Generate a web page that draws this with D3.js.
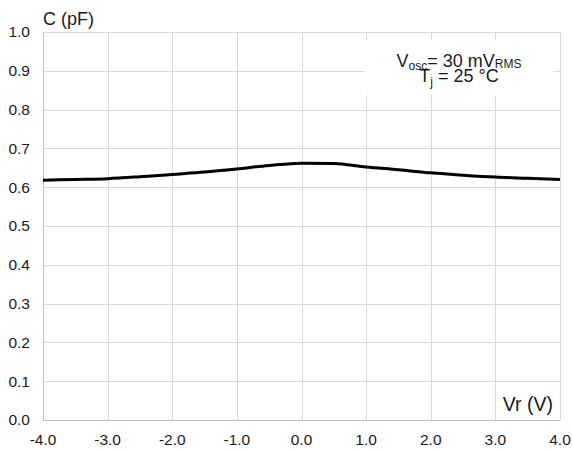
<!DOCTYPE html>
<html>
<head>
<meta charset="utf-8">
<script src="https://cdn.jsdelivr.net/npm/d3@7"></script>
<style>
  body { margin: 0; background: #fff; }
  svg text { font-family: "Liberation Sans", Arial, sans-serif; fill: #1a1a1a; }
</style>
</head>
<body>
<svg id="chart"></svg>
<script>
// reverse voltage (V) and capacitance (pF)
const vr = [-4.0, -3.5, -3.0, -2.5, -2.0, -1.5, -1.0, -0.5, 0.0, 0.5, 1.0, 1.5, 2.0, 2.5, 3.0, 3.5, 4.0];
const cap = [0.618, 0.620, 0.622, 0.627, 0.633, 0.639, 0.647, 0.656, 0.662, 0.661, 0.652, 0.645, 0.637, 0.631, 0.626, 0.623, 0.620];
const xTicks = [-4, -3, -2, -1, 0, 1, 2, 3, 4];
const yTicks = [0, 0.1, 0.2, 0.3, 0.4, 0.5, 0.6, 0.7, 0.8, 0.9, 1.0];

const W = 573, H = 453;
const margin = { top: 32, right: 13, bottom: 33, left: 43 };
const width = W - margin.left - margin.right;
const height = H - margin.top - margin.bottom;

const svg = d3.select('#chart').attr('width', W).attr('height', H);
const g = svg.append('g').attr('transform', `translate(${margin.left},${margin.top})`);

const x = d3.scaleLinear().domain([-4, 4]).range([0, width]);
const y = d3.scaleLinear().domain([0, 1]).range([height, 0]);

// grid
g.append('g').selectAll('line').data(xTicks).join('line')
    .attr('x1', d => Math.round(x(d)) + 0.5).attr('x2', d => Math.round(x(d)) + 0.5)
    .attr('y1', 0).attr('y2', height)
    .attr('stroke', '#d9d9d9').attr('stroke-width', 1);
g.append('g').selectAll('line').data(yTicks).join('line')
    .attr('x1', 0).attr('x2', width)
    .attr('y1', d => Math.round(y(d)) + 0.5).attr('y2', d => Math.round(y(d)) + 0.5)
    .attr('stroke', '#d9d9d9').attr('stroke-width', 1);

// axis lines
g.append('line').attr('x1', 0.5).attr('x2', 0.5).attr('y1', 0).attr('y2', height)
    .attr('stroke', '#bfbfbf');
g.append('line').attr('x1', 0).attr('x2', width).attr('y1', height + 0.5).attr('y2', height + 0.5)
    .attr('stroke', '#bfbfbf');

// tick labels
g.append('g').selectAll('text').data(yTicks).join('text')
    .attr('x', -13).attr('y', d => y(d)).attr('dy', '0.35em')
    .attr('text-anchor', 'end').style('font-size', '15.5px')
    .text(d => d.toFixed(1));
g.append('g').selectAll('text').data(xTicks).join('text')
    .attr('x', d => x(d)).attr('y', height + 25)
    .attr('text-anchor', 'middle').style('font-size', '15.5px')
    .text(d => d.toFixed(1));

// annotation box (covers grid)
svg.append('rect').attr('x', 365).attr('y', 40).attr('width', 188).attr('height', 55).attr('fill', '#fff');
const ann = svg.append('g').style('font-size', '18px');
const t1 = ann.append('text').attr('x', 459).attr('y', 67).attr('text-anchor', 'middle');
t1.append('tspan').text('V');
t1.append('tspan').attr('dy', 3).style('font-size', '12px').text('osc');
t1.append('tspan').attr('dy', -3).text('= 30 mV');
t1.append('tspan').attr('dy', 1).style('font-size', '12px').text('RMS');
const t2 = ann.append('text').attr('x', 459).attr('y', 82).attr('text-anchor', 'middle');
t2.append('tspan').text('T');
t2.append('tspan').attr('dy', 4).style('font-size', '12px').text('j');
t2.append('tspan').attr('dy', -4).text(' = 25 °C');

// axis titles
svg.append('text').attr('x', 43).attr('y', 25).style('font-size', '18px').text('C (pF)');
svg.append('text').attr('x', 553).attr('y', 411).attr('text-anchor', 'end').style('font-size', '19.5px').text('Vr (V)');

// curve
const line = d3.line().x((d, i) => x(vr[i])).y(d => y(d)).curve(d3.curveMonotoneX);
g.append('path').datum(cap).attr('d', line)
    .attr('fill', 'none').attr('stroke', '#000').attr('stroke-width', 3);
</script>
</body>
</html>
